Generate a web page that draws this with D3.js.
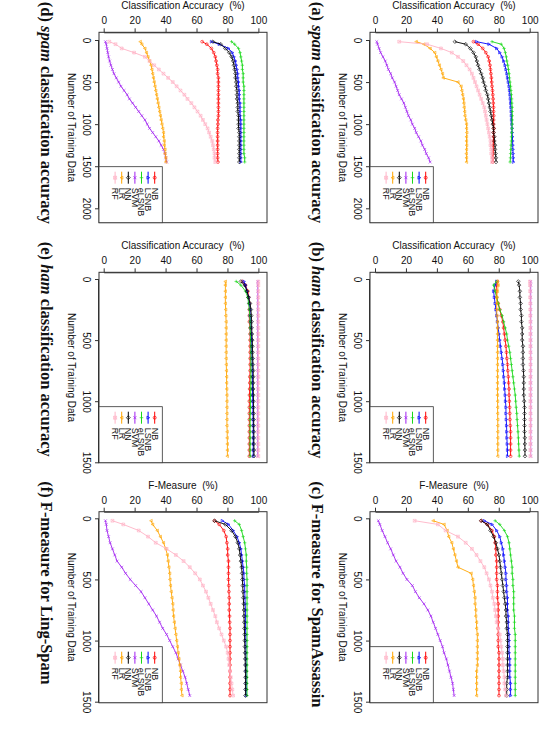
<!DOCTYPE html>
<html>
<head>
<meta charset="utf-8">
<script src="https://cdn.jsdelivr.net/npm/d3@7"></script>
<style>
  body { margin: 0; background: #fff; }
  svg { display: block; }
  text { font-family: "Liberation Sans", Arial, sans-serif; fill: #111; white-space: pre; }
  .caption { font-family: "Liberation Serif", "Times New Roman", serif; font-weight: bold; }
</style>
</head>
<body>
<div id="fig"></div>
<script>
// training set sizes (x values shared by every curve)
var trainSizes = [20, 50, 100, 150, 200, 250, 300, 350, 400, 450, 500, 550, 600, 650, 700, 750,
                  800, 850, 900, 950, 1000, 1050, 1100, 1150, 1200, 1250, 1300, 1350, 1400, 1450];

var methods = ["NB", "LSNB", "eLSNB", "SVM", "NN", "LR", "RF"];
var accTicks = [0, 20, 40, 60, 80, 100];
var trainTicksLong = [0, 500, 1000, 1500, 2000];
var trainTicksShort = [0, 500, 1000, 1500];

// (a) spam classification accuracy, SpamAssassin
var spamAccA = [
  [63, 66, 69, 71, 72.5, 73.2, 73.7, 74, 74.3, 74.6, 74.8, 75, 75.3, 75.5, 75.7, 75.8, 76, 76, 76.1, 76, 76, 76.2, 76, 76, 75.9, 75.8, 75.8, 75.6, 75.6, 75.5],
  [65, 73, 78, 80, 81.5, 82.5, 83.4, 84, 84.6, 85, 85.5, 86, 86.3, 86.6, 86.8, 87, 87.2, 87.4, 87.5, 87.6, 87.8, 88, 88, 88.2, 88.3, 88.4, 88.5, 88.6, 88.7, 88.8],
  [75, 81, 82.8, 83.6, 84.2, 84.6, 85.2, 85.6, 86, 86.3, 86.6, 87, 87.2, 87.5, 87.7, 87.8, 88, 88, 88.1, 88, 88, 87.9, 87.8, 87.6, 87.5, 87.3, 87.2, 87, 86.9, 86.7],
  [0.5, 1, 2, 3, 4.5, 6, 7, 8, 9.5, 10.5, 12, 13, 14, 15, 16.5, 18, 19, 20, 21, 22.5, 23.5, 25, 26, 27.5, 29, 30, 31.5, 32.5, 34, 35],
  [51, 58, 61, 63, 64.5, 65.2, 66, 67, 68, 69, 69.5, 70.5, 71, 72, 72.5, 73, 73.5, 74, 74.5, 75, 75.5, 76, 76, 76.5, 76.5, 77, 77, 77.3, 77.5, 77.6],
  [26, 31, 35, 38, 39, 40, 41, 42, 43, 43.5, 53, 55, 55.5, 56, 56.5, 56.8, 57, 57.3, 57.5, 58, 58.5, 58.5, 58.7, 58.5, 58.5, 58.6, 58.5, 58.4, 58.5, 58.5],
  [15, 33, 42, 49, 53, 56.4, 58.5, 60.5, 62, 63, 64, 65, 66, 67, 68, 69, 70, 70.5, 71, 71.5, 72, 72.5, 73, 73.5, 74, 74, 74.5, 74.5, 75, 75]
];

// (b) ham classification accuracy, SpamAssassin
var hamAccB = [
  [78.5, 78, 77.5, 78, 79, 80, 81, 82, 82.5, 83, 83.5, 84, 84.3, 84.6, 85, 85.2, 85.5, 85.7, 86, 86, 86.2, 86.4, 86.5, 86.6, 86.8, 87, 87, 87, 87, 87],
  [78, 77, 76, 76.5, 77, 77.5, 78, 78.5, 79, 79.5, 80, 80.5, 81, 81.5, 82, 82.3, 82.6, 83, 83.2, 83.5, 83.7, 84, 84, 84.2, 84.4, 84.5, 84.6, 84.8, 85, 85],
  [78, 76, 77, 78, 79, 80, 81.5, 82.5, 83.5, 84.5, 85, 85.8, 86.5, 87, 87.5, 88, 88.5, 89, 89.5, 90, 90.3, 90.6, 91, 91.2, 91.5, 91.8, 92, 92.2, 92.4, 92.6],
  [100, 100, 100, 100, 100, 100, 100, 100, 100, 100, 100, 100, 100, 100, 100, 100, 100, 100, 100, 100, 100, 100, 100, 100, 100, 100, 100, 100, 100, 100],
  [92, 92.5, 93, 93, 93.5, 93.5, 94, 94, 94.5, 94.5, 94.5, 95, 95, 95, 95, 95.3, 95.5, 95.5, 95.5, 95.5, 95.8, 96, 96, 96, 96, 96, 96.2, 96.2, 96.3, 96.3],
  [78.5, 79, 78.5, 78, 78, 78, 78.2, 78.5, 78.5, 78.5, 78.5, 78.5, 78.5, 78.5, 78.5, 78.5, 78.5, 78.5, 78.5, 78.5, 78.6, 78.6, 78.6, 78.7, 78.7, 78.7, 78.7, 78.7, 78.7, 78.7],
  [99.5, 99.5, 99.6, 99.6, 99.7, 99.7, 99.7, 99.8, 99.8, 99.8, 99.8, 99.8, 99.8, 99.8, 99.8, 99.8, 99.8, 99.8, 99.8, 99.8, 99.8, 99.8, 99.8, 99.8, 99.8, 99.8, 99.8, 99.8, 99.8, 99.8]
];

// (c) F-measure, SpamAssassin
var fMeasureC = [
  [68, 72, 75, 76.5, 77, 77.5, 77.5, 78, 78, 78, 78, 78.5, 78.5, 78.5, 79, 79, 79, 79, 79, 79, 79, 79, 79.5, 79.5, 79.5, 79.5, 79.5, 79.5, 79.5, 79.5],
  [70, 75, 78, 80, 81, 82, 82.5, 83, 83.5, 84, 84, 84.5, 84.5, 85, 85, 85, 85.5, 85.5, 85.5, 86, 86, 86, 86, 86.5, 86.5, 86.5, 86.5, 87, 87, 87],
  [77, 80, 83, 85, 86, 86.5, 87, 87.5, 88, 88, 88.5, 88.5, 89, 89, 89, 89, 89.5, 89.5, 89.5, 90, 90, 90, 90, 90, 90, 90, 90, 90, 90, 90],
  [1.5, 2.5, 4, 5.8, 7.5, 9.5, 11.2, 13, 15.5, 17.5, 20, 23.5, 25.5, 28, 31, 33.5, 35.5, 37, 38.5, 40, 41.5, 43, 44, 45.5, 46.5, 47.5, 48.5, 49.5, 50, 50.5],
  [68, 72, 74, 76, 77.5, 78.5, 79.5, 80, 80.5, 81, 81.5, 82, 82.5, 83, 83.5, 84, 84, 84.5, 84.5, 85, 85, 85, 85, 85, 85, 85, 85, 84.5, 84.5, 84.5],
  [37, 44, 46, 47, 49, 50, 51, 52, 53, 61.5, 62.5, 63, 63.5, 64, 64, 64.5, 64.5, 65, 65, 65.5, 65.5, 65.5, 65.5, 65.5, 65.5, 65, 65, 65, 65, 65],
  [25, 40, 45, 53, 58, 62, 65, 67.5, 70, 71.5, 73, 74, 75, 75.5, 76.5, 77, 77.5, 78, 79, 80, 80.5, 81, 81.5, 82, 82, 82.5, 83, 83, 83.5, 84]
];

// (d) spam classification accuracy, Ling-Spam
var spamAccD = [
  [63, 66, 69, 70.5, 71.5, 72, 72.5, 73, 73, 73.5, 73.5, 73.5, 73.5, 73.5, 73.5, 73.5, 73.5, 73.5, 73.5, 73.2, 73.2, 73, 73, 73, 73, 73, 73, 73, 73, 73.2],
  [69, 74, 80, 82.5, 83.5, 84.5, 85, 85.5, 86, 86, 86.5, 86.5, 87, 87, 87, 87.5, 87.5, 87.5, 87.5, 88, 88, 88, 88, 88, 88, 88, 88, 88, 88, 88],
  [82, 84, 86.5, 87.5, 88, 88.5, 89, 89, 89.5, 89.5, 89.5, 90, 90, 90, 90, 90, 90, 90, 90, 90, 90, 90, 90, 90, 90, 90, 90, 90, 90.5, 90.5],
  [0.5, 1, 1.5, 2, 2.5, 3.2, 4, 5, 6, 7.5, 9, 10.5, 12.5, 14.5, 16, 18, 20, 22, 24, 26, 27.5, 29, 31, 33, 35, 36.5, 38, 39, 39.5, 40],
  [70, 75, 78, 80.5, 82, 83, 83.5, 84, 84.5, 84.5, 85, 85, 85.5, 85.5, 85.5, 86, 86, 86, 86.5, 86.5, 86.5, 86.5, 87, 87, 87, 87, 87, 87, 87, 87],
  [23, 24, 26, 27, 28, 29, 30, 30.5, 31, 31.5, 32, 32.5, 33, 33.5, 34, 34.5, 35, 35.5, 36, 36.5, 37, 37.5, 38, 38, 38.5, 38.5, 39, 39, 39.5, 39.5],
  [3, 7, 11, 19, 26, 29, 32, 35, 38, 41, 44, 46.5, 49, 51.5, 53.5, 56, 58, 60, 62, 63.5, 65, 66.5, 67.5, 68.5, 69.5, 70, 70.5, 71, 71, 71.5]
];

// (e) ham classification accuracy, Ling-Spam
var hamAccE = [
  [89, 91, 92.5, 93, 93.5, 93.5, 93.5, 93.5, 94, 94, 94, 94, 94, 94, 94, 94, 93.8, 93.8, 93.7, 93.6, 93.5, 93.5, 93.5, 93.5, 93.5, 93.5, 93.5, 93.5, 93.5, 93.5],
  [90, 91, 92, 93, 93.5, 94, 94, 94.3, 94.5, 94.7, 95, 95, 95, 95.2, 95.3, 95.4, 95.5, 95.5, 95.5, 95.6, 95.7, 95.8, 95.8, 95.9, 96, 96, 96, 96, 96, 96],
  [85, 88, 91, 92.5, 93, 93.5, 93.8, 94, 94, 94.2, 94.3, 94.5, 94.5, 94.5, 94.5, 94.5, 94.5, 94.5, 94.4, 94.3, 94.2, 94.2, 94.1, 94, 94, 94, 94, 94, 94, 94],
  [99, 99, 99, 99, 99, 99, 99, 99, 99, 99, 99, 99, 99, 99, 99, 99, 99, 99, 99, 99, 99, 99, 99, 99, 99, 99, 99, 99, 99, 99],
  [88, 90.5, 92, 93, 94, 94.5, 94.8, 95, 95, 95.2, 95.4, 95.5, 95.6, 95.7, 95.8, 96, 96, 96, 96, 96.1, 96.2, 96.2, 96.3, 96.3, 96.3, 96.4, 96.4, 96.4, 96.5, 96.5],
  [78, 78, 78, 78, 78, 78.2, 78.3, 78.5, 78.5, 78.5, 78.5, 78.5, 78.5, 78.5, 78.6, 78.7, 78.8, 78.8, 78.9, 79, 79, 79, 79, 79, 79, 79.2, 79.2, 79.3, 79.3, 79.3],
  [99.3, 99.3, 99.3, 99.3, 99.3, 99.3, 99.3, 99.3, 99.3, 99.3, 99.3, 99.3, 99.3, 99.3, 99.3, 99.3, 99.3, 99.3, 99.3, 99.3, 99.3, 99.3, 99.3, 99.3, 99.3, 99.3, 99.3, 99.3, 99.3, 99.3]
];

// (f) F-measure, Ling-Spam
var fMeasureF = [
  [71, 74, 77, 78.5, 79, 79.5, 79.5, 80, 80, 80, 80, 80.2, 80.3, 80.5, 80.5, 80.5, 80.7, 80.8, 81, 81, 81, 81, 81, 81, 81, 81, 81, 81, 81, 81],
  [76, 80, 83, 85.5, 87, 88, 88.5, 89, 89.5, 90, 90, 90.5, 90.5, 90.7, 90.8, 91, 91, 91, 91, 91.2, 91.2, 91.3, 91.3, 91.4, 91.4, 91.4, 91.5, 91.5, 91.5, 91.5],
  [84, 87, 88.5, 89.5, 90.5, 91, 91.5, 91.5, 91.8, 91.8, 92, 92, 92, 92, 92, 92, 92, 92, 92, 92, 92, 92, 92, 92, 92, 92, 92, 92, 92, 92],
  [0.5, 1, 1.5, 2.5, 3.5, 5, 6.5, 8, 11, 13.5, 16.5, 20, 23.5, 26, 28.5, 31, 33.5, 35.5, 37.5, 40, 42, 44, 46, 47.5, 49, 50.5, 52, 53, 54, 55],
  [71, 78, 82, 84.5, 86, 87, 87.5, 88, 88.5, 88.8, 89, 89.2, 89.4, 89.6, 89.8, 90, 90, 90.2, 90.3, 90.4, 90.5, 90.6, 90.7, 90.8, 90.9, 91, 91, 91, 91, 91],
  [30, 31, 34, 36, 38, 39.5, 40.5, 41, 41.5, 42, 42.2, 42.5, 43, 43.5, 44, 44.2, 44.5, 45, 45.5, 46, 46.5, 47, 47.5, 48, 48.5, 49, 49, 49.5, 49.5, 50],
  [5, 12, 22, 28, 33, 40, 46, 51, 55, 58.5, 61.5, 63.5, 65.5, 67, 68.5, 70, 71.5, 72.5, 74, 75.5, 77, 78.5, 79.5, 80, 80.5, 81, 81.5, 82, 82.5, 83]
];

var colors = ["#ff0000", "#0000ff", "#18d818", "#a020f0", "#000000", "#ffa500", "#ffb3c6"];
var shapes = ["circle", "triUp", "plus", "cross", "diamond", "triDown", "boxX"];

// the whole figure is an R plot page turned a quarter turn clockwise,
// so everything below is laid out in the un-turned (landscape) frame
var cols = [
  {boxL: 32.3, boxR: 222.7, x0: 40, x1: 208.3, ticks: trainTicksLong},
  {boxL: 272.3, boxR: 462.7, x0: 279, x1: 462.3, ticks: trainTicksShort},
  {boxL: 511.7, boxR: 702.7, x0: 518.3, x1: 701.7, ticks: trainTicksShort}
];
var rows = [
  {top: 2, bottom: 170, y0: 164, y100: 9.3},
  {top: 273, bottom: 441, y0: 435.3, y100: 280.6}
];

var panels = [
  {data: spamAccA, col: 0, row: 0, ylab: "Classification Accuracy  (%)", cap: [["(a) ", false], ["spam", true], [" classification accuracy", false]]},
  {data: hamAccB, col: 1, row: 0, ylab: "Classification Accuracy  (%)", cap: [["(b) ", false], ["ham", true], [" classification accuracy", false]]},
  {data: fMeasureC, col: 2, row: 0, ylab: "F-Measure  (%)", cap: [["(c) F-measure for SpamAssassin", false]]},
  {data: spamAccD, col: 0, row: 1, ylab: "Classification Accuracy  (%)", cap: [["(d) ", false], ["spam", true], [" classification accuracy", false]]},
  {data: hamAccE, col: 1, row: 1, ylab: "Classification Accuracy  (%)", cap: [["(e) ", false], ["ham", true], [" classification accuracy", false]]},
  {data: fMeasureF, col: 2, row: 1, ylab: "F-Measure  (%)", cap: [["(f) F-measure for Ling-Spam", false]]}
];

function symbolPath(shape, r) {
  switch (shape) {
    case "circle": return d3.symbol(d3.symbolCircle, Math.PI * r * r)();
    case "triUp": return `M0,${-r * 1.1}L${r},${r * 0.8}L${-r},${r * 0.8}Z`;
    case "triDown": return `M0,${r * 1.1}L${r},${-r * 0.8}L${-r},${-r * 0.8}Z`;
    case "plus": return `M${-r * 1.2},0H${r * 1.2}M0,${-r * 1.2}V${r * 1.2}`;
    case "cross": return `M${-r},${-r}L${r},${r}M${-r},${r}L${r},${-r}`;
    case "diamond": return `M0,${-r * 1.3}L${r * 1.3},0L0,${r * 1.3}L${-r * 1.3},0Z`;
    case "boxX": return `M${-r},${-r}H${r}V${r}H${-r}ZM${-r},${-r}L${r},${r}M${-r},${r}L${r},${-r}`;
  }
}

var svg = d3.select("#fig").append("svg")
    .attr("width", 540)
    .attr("height", 730);

var fig = svg.append("g")
    .attr("transform", "translate(540,0) rotate(90)");

panels.forEach(function(p) {
  var c = cols[p.col], r = rows[p.row];
  var xMax = c.ticks[c.ticks.length - 1];

  var xScale = d3.scaleLinear().domain([0, xMax]).range([c.x0, c.x1]);
  var yScale = d3.scaleLinear().domain([0, 100]).range([r.y0, r.y100]);

  var g = fig.append("g");

  // series
  var line = d3.line()
      .x(d => xScale(d[0]))
      .y(d => yScale(d[1]));

  p.data.forEach(function(vals, i) {
    var pts = trainSizes.map((t, k) => [t, vals[k]]);
    g.append("path")
        .attr("d", line(pts))
        .attr("fill", "none")
        .attr("stroke", colors[i])
        .attr("stroke-width", 0.9);
    g.selectAll(null)
        .data(pts)
        .enter()
        .append("path")
        .attr("transform", d => `translate(${xScale(d[0])},${yScale(d[1])})`)
        .attr("d", symbolPath(shapes[i], 1.4))
        .attr("fill", "none")
        .attr("stroke", colors[i])
        .attr("stroke-width", 0.6);
  });

  // axes
  var xAxis = d3.axisBottom(xScale).tickValues(c.ticks).tickFormat(d3.format("d"))
      .tickSize(4).tickSizeOuter(0).tickPadding(5);
  var gx = g.append("g")
      .attr("transform", `translate(0,${r.bottom})`)
      .call(xAxis);
  gx.selectAll("text").attr("font-size", 10).attr("font-family", null);

  var yAxis = d3.axisLeft(yScale).tickValues(accTicks).tickFormat(d3.format("d"))
      .tickSize(4).tickSizeOuter(0);
  var gy = g.append("g")
      .attr("transform", `translate(${c.boxL},0)`)
      .call(yAxis);
  gy.selectAll("text")
      .attr("x", null)
      .attr("dy", null)
      .attr("font-size", 10)
      .attr("font-family", null)
      .attr("text-anchor", "middle")
      .attr("transform", "translate(-8,0) rotate(-90)");
  g.selectAll(".domain").attr("stroke", "#333");
  g.selectAll(".tick line").attr("stroke", "#333");

  // plot box
  g.append("rect")
      .attr("x", c.boxL)
      .attr("y", r.top)
      .attr("width", c.boxR - c.boxL)
      .attr("height", r.bottom - r.top)
      .attr("fill", "none")
      .attr("stroke", "#333")
      .attr("stroke-width", 1);

  // axis titles
  g.append("text")
      .attr("x", (c.boxL + c.boxR) / 2)
      .attr("y", r.bottom + 31.5)
      .attr("text-anchor", "middle")
      .attr("font-size", 10)
      .text("Number of Training Data");

  g.append("text")
      .attr("transform", `translate(${c.boxL - 23},${(r.top + r.bottom) / 2}) rotate(-90)`)
      .attr("text-anchor", "middle")
      .attr("font-size", 10)
      .text(p.ylab);

  // legend in the bottom right corner
  var lgW = 56, lgH = 63.3;
  var lg = g.append("g")
      .attr("transform", `translate(${c.boxR - lgW},${r.bottom - lgH})`);
  lg.append("rect")
      .attr("width", lgW)
      .attr("height", lgH)
      .attr("fill", "#fff")
      .attr("stroke", "#333")
      .attr("stroke-width", 0.8);
  methods.forEach(function(m, i) {
    var yy = 7.6 + i * 6.6;
    lg.append("line")
        .attr("x1", 5).attr("x2", 17)
        .attr("y1", yy).attr("y2", yy)
        .attr("stroke", colors[i]);
    lg.append("path")
        .attr("transform", `translate(11,${yy})`)
        .attr("d", symbolPath(shapes[i], 1.5))
        .attr("fill", "none")
        .attr("stroke", colors[i])
        .attr("stroke-width", 0.7);
    lg.append("text")
        .attr("x", 21)
        .attr("y", yy + 3.2)
        .attr("font-size", 9)
        .text(m);
  });

  // sub-figure caption
  var cap = g.append("text")
      .attr("class", "caption")
      .attr("x", c.boxL - 30.5)
      .attr("y", r.bottom + 58)
      .attr("font-size", 16.5);
  p.cap.forEach(function(seg) {
    cap.append("tspan")
        .attr("font-style", seg[1] ? "italic" : null)
        .text(seg[0]);
  });
});
</script>
</body>
</html>
